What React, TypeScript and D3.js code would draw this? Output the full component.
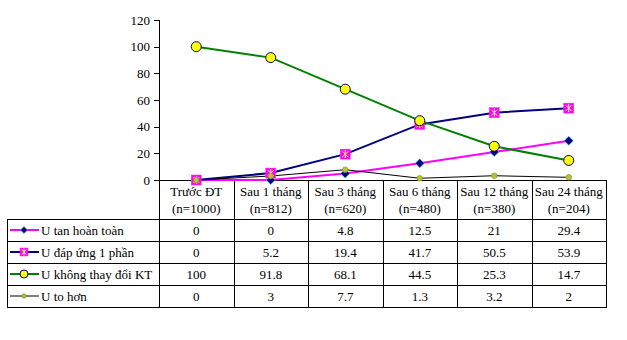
import React from "react";
import * as d3 from "d3";

const categories = ["Trước ĐT", "Sau 1 tháng", "Sau 3 tháng", "Sau 6 tháng", "Sau 12 tháng", "Sau 24 tháng"];
const sampleSizes = ["(n=1000)", "(n=812)", "(n=620)", "(n=480)", "(n=380)", "(n=204)"];
const seriesNames = ["U tan hoàn toàn", "U đáp ứng 1 phần", "U không thay đổi KT", "U to hơn"];
const tanHoanToan = [0, 0, 4.8, 12.5, 21, 29.4];
const dapUng1Phan = [0, 5.2, 19.4, 41.7, 50.5, 53.9];
const khongThayDoi = [100, 91.8, 68.1, 44.5, 25.3, 14.7];
const toHon = [0, 3, 7.7, 1.3, 3.2, 2];
const yTicks = [0, 20, 40, 60, 80, 100, 120];

const seriesValues = [tanHoanToan, dapUng1Phan, khongThayDoi, toHon];
const styles = [
  { line: "#FF00FF", width: 2, marker: "diamond" },
  { line: "#000080", width: 2, marker: "square" },
  { line: "#008000", width: 2, marker: "circle" },
  { line: "#000000", width: 1, marker: "small" },
];

const FONT = '"Liberation Serif", "Times New Roman", "DejaVu Serif", serif';

function Marker({ kind, x, y, k = 1 }: { kind: string; x: number; y: number; k?: number }) {
  if (kind === "diamond") {
    const s = 4.5 * k;
    return (
      <path
        d={`M${x},${y - s}L${x + s},${y}L${x},${y + s}L${x - s},${y}Z`}
        fill="#000080"
        stroke="#33CCFF"
        strokeWidth={0.6}
      />
    );
  }
  if (kind === "square") {
    const s = 5 * k;
    const a = 3 * k;
    return (
      <g>
        <rect x={x - s} y={y - s} width={2 * s} height={2 * s} fill="#FF00FF" stroke="#FF33CC" strokeWidth={0.5} />
        <path
          d={`M${x - a},${y - a}L${x + a},${y + a}M${x + a},${y - a}L${x - a},${y + a}M${x},${y - a - 1}L${x},${y + a + 1}`}
          stroke="#FFFF66"
          strokeWidth={1}
        />
      </g>
    );
  }
  if (kind === "circle") {
    return <circle cx={x} cy={y} r={5 * k} fill="#FFFF00" stroke="#000080" strokeWidth={1} />;
  }
  return <circle cx={x} cy={y} r={2.8 * k} fill="#B8C234" stroke="#7A8A20" strokeWidth={0.6} />;
}

export default function App() {
  const W = 627;
  const H = 340;
  const plotLeft = 159;
  const plotRight = 606;
  const yTop = 20;
  const yBottom = 180;
  const tableLeft = 7;
  const headerBottom = 219;
  const rowH = 22;

  const x = d3.scaleBand<string>().domain(categories).range([plotLeft, plotRight]);
  const y = d3.scaleLinear().domain([0, 120]).range([yBottom, yTop]);
  const line = d3
    .line<number>()
    .x((_, i) => (x(categories[i]) as number) + x.bandwidth() / 2)
    .y((d) => y(d));

  const tableBottom = headerBottom + rowH * seriesNames.length;
  const ts = { fontFamily: FONT, fontSize: "13px" } as React.CSSProperties;

  return (
    <svg width={W} height={H} style={{ position: "absolute", left: 0, top: 0, background: "#fff", fontFamily: FONT }}>
      <rect width={W} height={H} fill="#fff" />
      <line x1={plotLeft + 0.5} y1={yTop} x2={plotLeft + 0.5} y2={yBottom} stroke="#000" />
      {yTicks.map((t) => (
        <g key={t}>
          <line x1={plotLeft - 5} x2={plotLeft} y1={Math.round(y(t)) + 0.5} y2={Math.round(y(t)) + 0.5} stroke="#000" />
          <text x={plotLeft - 9} y={y(t)} dy="0.35em" textAnchor="end" style={ts}>
            {t}
          </text>
        </g>
      ))}
      <line x1={plotLeft} x2={plotRight} y1={yBottom + 0.5} y2={yBottom + 0.5} stroke="#000" />
      {categories.map((c, i) => (
        <line
          key={"v" + i}
          x1={Math.round(x(c) as number) + 0.5}
          x2={Math.round(x(c) as number) + 0.5}
          y1={yBottom}
          y2={tableBottom}
          stroke="#000"
        />
      ))}
      <line x1={plotRight + 0.5} x2={plotRight + 0.5} y1={yBottom} y2={tableBottom} stroke="#000" />
      <line x1={tableLeft + 0.5} x2={tableLeft + 0.5} y1={headerBottom} y2={tableBottom} stroke="#000" />
      {seriesNames.map((_, r) => (
        <line
          key={"h" + r}
          x1={tableLeft}
          x2={plotRight + 1}
          y1={headerBottom + r * rowH + 0.5}
          y2={headerBottom + r * rowH + 0.5}
          stroke="#000"
        />
      ))}
      <line x1={tableLeft} x2={plotRight + 1} y1={tableBottom + 0.5} y2={tableBottom + 0.5} stroke="#000" />
      {categories.map((c, i) => {
        const cx = (x(c) as number) + x.bandwidth() / 2;
        return (
          <g key={"hd" + i}>
            <text x={cx} y={191} dy="0.35em" textAnchor="middle" style={ts}>
              {c}
            </text>
            <text x={cx} y={208} dy="0.35em" textAnchor="middle" style={ts}>
              {sampleSizes[i]}
            </text>
          </g>
        );
      })}
      {seriesNames.map((name, r) => {
        const cy = headerBottom + r * rowH + rowH / 2;
        const st = styles[r];
        return (
          <g key={"row" + r}>
            <line x1={10} x2={39} y1={cy} y2={cy} stroke={st.line} strokeWidth={st.width} />
            <Marker kind={st.marker} x={24} y={cy} k={0.8} />
            <text x={41} y={cy} dy="0.35em" style={ts}>
              {name}
            </text>
            {seriesValues[r].map((v, i) => (
              <text
                key={i}
                x={(x(categories[i]) as number) + x.bandwidth() / 2}
                y={cy}
                dy="0.35em"
                textAnchor="middle"
                style={ts}
              >
                {v}
              </text>
            ))}
          </g>
        );
      })}
      {seriesValues.map((vals, s) => (
        <path key={"l" + s} d={line(vals) || ""} fill="none" stroke={styles[s].line} strokeWidth={styles[s].width} />
      ))}
      {seriesValues.map((vals, s) => (
        <g key={"m" + s}>
          {vals.map((v, i) => (
            <Marker key={i} kind={styles[s].marker} x={(x(categories[i]) as number) + x.bandwidth() / 2} y={y(v)} />
          ))}
        </g>
      ))}
    </svg>
  );
}
